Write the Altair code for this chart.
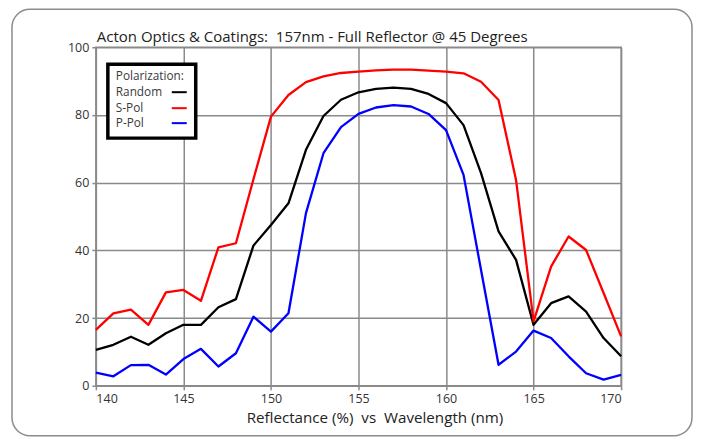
import altair as alt
import pandas as pd

# ---- data ----
wavelength = list(range(140, 171))

random_pol = [10.6, 12.1, 14.5, 12.1, 15.5, 18.0, 18.0, 23.2, 25.6, 41.4,
              47.5, 53.9, 69.7, 79.7, 84.5, 86.7, 87.7, 88.1, 87.7, 86.2,
              83.5, 77.0, 62.8, 45.6, 37.2, 18.0, 24.4, 26.4, 21.9, 14.1, 8.7]

s_pol = [16.5, 21.4, 22.5, 18.0, 27.6, 28.3, 25.1, 40.9, 42.1, 61.0,
         79.5, 85.9, 89.7, 91.4, 92.4, 92.8, 93.2, 93.4, 93.4, 93.1,
         92.8, 92.3, 89.8, 84.4, 60.8, 19.0, 35.2, 44.1, 40.1, 27.4, 14.6]

p_pol = [3.9, 2.8, 6.1, 6.2, 3.3, 7.9, 10.9, 5.7, 9.6, 20.4,
         16.0, 21.4, 51.0, 68.7, 76.4, 80.3, 82.2, 82.9, 82.5, 80.3,
         75.5, 62.3, 34.2, 6.2, 10.1, 16.3, 14.1, 8.7, 3.7, 1.8, 3.2]

series_names = ["Random", "S-Pol", "P-Pol"]
series_colors = ["#000000", "#ff0000", "#0000ff"]
x_ticks = [140, 145, 150, 155, 160, 165, 170]
y_ticks = [0, 20, 40, 60, 80, 100]

title_text = "Acton Optics & Coatings:\u00a0 157nm - Full Reflector @ 45 Degrees"
x_title = "Reflectance (%)\u00a0 vs\u00a0 Wavelength (nm)"
legend_title = "Polarization:"

rows = []
for name, vals in zip(series_names, [random_pol, s_pol, p_pol]):
    for w, v in zip(wavelength, vals):
        rows.append({"wavelength": w, "reflectance": v, "series": name})
df = pd.DataFrame(rows)

W, H = 526, 339
FONT = "Open Sans"

x_scale = alt.Scale(domain=[140, 170], nice=False, zero=False)
y_scale = alt.Scale(domain=[0, 100], nice=False)

lines = alt.Chart(df).mark_line(strokeWidth=2.3, strokeJoin="round").encode(
    x=alt.X("wavelength:Q", scale=x_scale,
            axis=alt.Axis(values=x_ticks, title=x_title, titleX=279,
                          titlePadding=5, labelPadding=3)),
    y=alt.Y("reflectance:Q", scale=y_scale,
            axis=alt.Axis(values=y_ticks, title=None, labelPadding=3)),
    color=alt.Color("series:N",
                    scale=alt.Scale(domain=series_names, range=series_colors),
                    legend=None),
)

one = pd.DataFrame({"a": [0]})

# chart title as text (so the outer frame does not push it away)
title_mark = alt.Chart(one).mark_text(
    align="left", baseline="middle", font=FONT, fontSize=15,
    color="#222", text=title_text
).encode(x=alt.value(1), y=alt.value(-10))

# legend box (decoration)
legend_box = alt.Chart(one).mark_rect(
    fill="white", stroke="black", strokeWidth=3.5
).encode(x=alt.value(12), x2=alt.value(100), y=alt.value(17), y2=alt.value(91))

legend_layers = [legend_box]
legend_layers.append(
    alt.Chart(one).mark_text(align="left", baseline="middle", font=FONT,
                             fontSize=11.8, color="#3a3a3a", text=legend_title)
    .encode(x=alt.value(20), y=alt.value(29))
)
row_y = [45, 61, 76]
for name, col, yy in zip(series_names, series_colors, row_y):
    legend_layers.append(
        alt.Chart(one).mark_text(align="left", baseline="middle", font=FONT,
                                 fontSize=11.8, color="#3a3a3a", text=name)
        .encode(x=alt.value(20), y=alt.value(yy))
    )
    legend_layers.append(
        alt.Chart(one).mark_rule(color=col, strokeWidth=2)
        .encode(x=alt.value(76), x2=alt.value(91), y=alt.value(yy))
    )

# rounded outer frame (decoration)
frame = alt.Chart(one).mark_rect(
    fillOpacity=0, stroke="#8c8c8c", strokeWidth=1.5, cornerRadius=18
).encode(x=alt.value(-84), x2=alt.value(597), y=alt.value(-38), y2=alt.value(389))

chart = alt.layer(lines, *legend_layers, title_mark, frame).properties(
    width=W, height=H,
    autosize=alt.AutoSizeParams(type="none"),
    padding={"left": 88, "top": 39, "right": 72, "bottom": 52},
).configure_view(
    stroke="#888888", strokeWidth=1.5
).configure_axis(
    grid=True, gridColor="#8a8a8a", gridWidth=1.5, domain=False,
    tickColor="#8a8a8a", tickSize=4, tickWidth=1.5,
    labelFont=FONT, labelFontSize=12.5, labelColor="#333",
    titleFont=FONT, titleFontSize=15.2, titleFontWeight="normal", titleColor="#222",
)

chart.save("out.html", embed_options={"renderer": "svg", "actions": False})
